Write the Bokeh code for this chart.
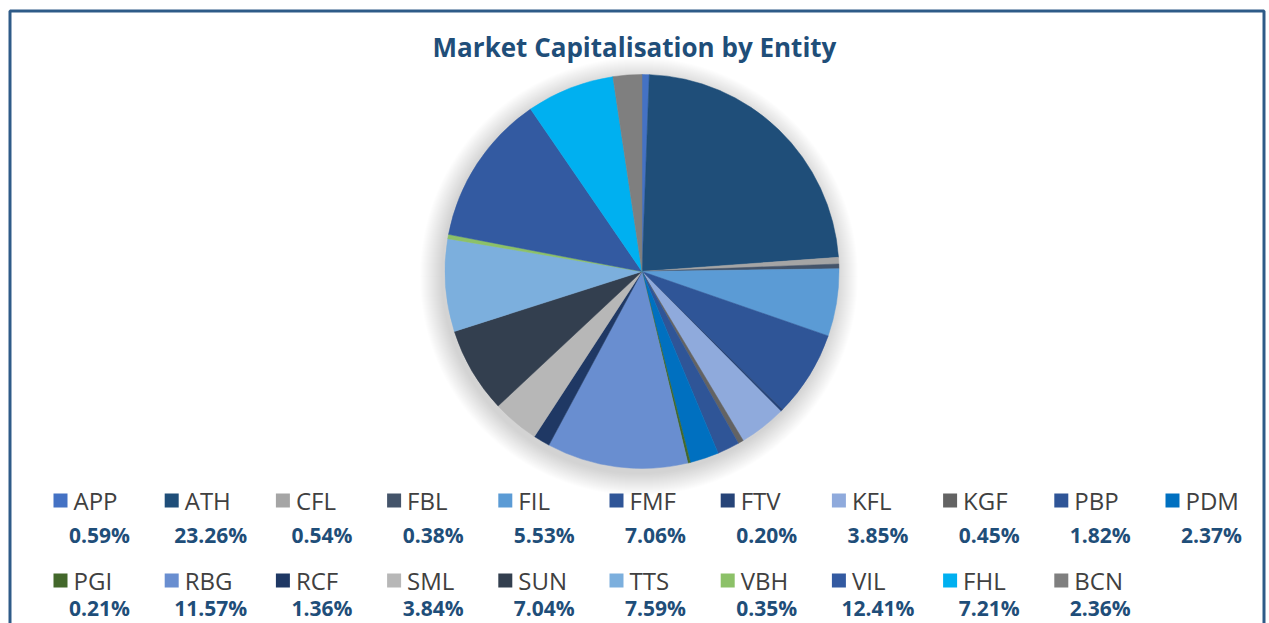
import numpy as np
from bokeh.plotting import figure
from bokeh.models import Range1d, ColumnDataSource
from bokeh.core.properties import value
from bokeh.embed import file_html
from bokeh.resources import INLINE

# ---- data ----
entities = ["APP", "ATH", "CFL", "FBL", "FIL", "FMF", "FTV", "KFL", "KGF", "PBP", "PDM",
            "PGI", "RBG", "RCF", "SML", "SUN", "TTS", "VBH", "VIL", "FHL", "BCN"]
shares = [0.59, 23.26, 0.54, 0.38, 5.53, 7.06, 0.20, 3.85, 0.45, 1.82, 2.37,
          0.21, 11.57, 1.36, 3.84, 7.04, 7.59, 0.35, 12.41, 7.21, 2.36]
colors = ["#4472C4", "#1F4E79", "#A5A5A5", "#44546A", "#5B9BD5", "#2F5597", "#264478",
          "#8FAADC", "#636363", "#2F5597", "#0070C0", "#43682B", "#698ED0", "#1F3864",
          "#B7B7B7", "#333F4F", "#7CAFDD", "#8CC168", "#335AA1", "#00B0F0", "#7F7F7F"]
title_text = "Market Capitalisation by Entity"

# ---- layout (pixel-like data space, y measured up from bottom) ----
W, H = 1269, 623
CX, CY, R = 641.5, H - 271, 197

p = figure(width=W, height=H, output_backend="svg", toolbar_location=None,
           x_range=Range1d(0, W), y_range=Range1d(0, H),
           x_axis_location=None, y_axis_location=None,
           min_border=0, min_border_left=0, min_border_right=0,
           min_border_top=0, min_border_bottom=0)
p.grid.visible = False
p.outline_line_color = None
p.background_fill_color = "white"
p.border_fill_color = "white"

# frame (left, top, right; bottom runs off the page)
p.line(x=[9.5, 9.5, 1263.5, 1263.5], y=[-20, H - 10.5, H - 10.5, -20],
       line_color="#2E5B88", line_width=3)

# soft shadow
for k in range(1, 23):
    p.circle(x=CX - 3, y=CY - 5, radius=R + k, fill_color="black", fill_alpha=0.007,
             line_color=None)

# pie
vals = np.array(shares, dtype=float)
frac = vals / vals.sum()
cum = np.cumsum(frac)
prev = np.concatenate([[0.0], cum[:-1]])
src = ColumnDataSource(dict(
    entity=entities, share=shares, color=colors,
    start=np.pi / 2 - prev * 2 * np.pi,
    end=np.pi / 2 - cum * 2 * np.pi,
))
p.wedge(x=CX, y=CY, radius=R, start_angle="start", end_angle="end", direction="clock",
        fill_color="color", line_color="color", line_width=0.5, source=src)

# title
p.text(x=[634], y=[H - 46], text=[title_text], text_align="center", text_baseline="middle",
       text_font=value("Open Sans"), text_font_style="bold",
       text_font_size=value("26px"), text_color="#1F4E79")

# legend with percentages
n_per_row = 11
col_w = 111.2
idx = np.arange(len(entities))
row = idx // n_per_row
col = idx % n_per_row
sq_x = 60 + col * col_w
sq_y = np.where(row == 0, H - 500, H - 580)
pct_y = np.where(row == 0, H - 534, H - 607)
leg = ColumnDataSource(dict(
    sx=sq_x, sy=sq_y, lx=sq_x + 13, px=sq_x + 39, py=pct_y,
    name=entities, color=colors, pct=[f"{v:.2f}%" for v in shares],
))
p.scatter(x="sx", y="sy", marker="square", size=14, fill_color="color", line_color=None,
          source=leg)
p.text(x="lx", y="sy", text="name", source=leg, text_align="left", text_baseline="middle",
       text_font=value("Open Sans"), text_font_size=value("24px"), text_color="#404040")
p.text(x="px", y="py", text="pct", source=leg, text_align="center", text_baseline="middle",
       text_font=value("Open Sans"), text_font_style="bold",
       text_font_size=value("21px"), text_color="#1F4E79")

open("out.html", "w").write(file_html(p, INLINE))
